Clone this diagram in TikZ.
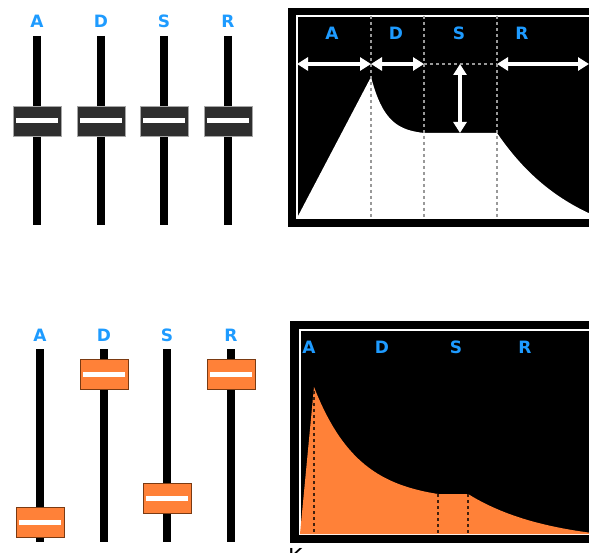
\documentclass[tikz,border=0pt]{standalone}
\usepackage{fontspec}
\setsansfont{DejaVu Sans}
\usetikzlibrary{arrows.meta}
\definecolor{adsrBlue}{HTML}{1E9BFF}
\definecolor{knobGray}{HTML}{2E2E2E}
\definecolor{knobOrange}{HTML}{FF8138}
\definecolor{knobEdge}{HTML}{7A3A12}

\begin{document}
\begin{tikzpicture}
[x=1pt,y=-1pt,
  trackDecorate/.style={black,line width=8pt},
  knobDecorate/.style={shape=rectangle,minimum width=48pt,minimum height=30pt,inner sep=0pt,line width=0.7pt},
  barDecorate/.style={shape=rectangle,fill=white,minimum width=42pt,minimum height=5pt,inner sep=0pt},
  labelDecorate/.style={text=adsrBlue,font=\sffamily\bfseries\fontsize{17}{17}\selectfont},
  arrowDecorate/.style={{Triangle[length=11pt,width=13pt]}-{Triangle[length=11pt,width=13pt]},white,line width=3.5pt},
  dashDecorate/.style={gray!80,line width=1.3pt,dash pattern=on 3pt off 3pt},
  darkDashDecorate/.style={black!75!knobOrange,line width=1.3pt,dash pattern=on 3pt off 3pt}]
\path[use as bounding box,clip] (0,0) rectangle (589,553);

%% sliders, upper row
\foreach \name/\x in {A/37, D/101, S/164, R/228}
{
  \node (labUp\name) at (\x,21) [labelDecorate] {\name};
  \coordinate (trackUpTop\name) at (\x,36);
  \coordinate (trackUpBot\name) at (\x,225);
  \draw[trackDecorate] (trackUpTop\name) -- (trackUpBot\name);
  \node (knobUp\name) at (\x,121) [knobDecorate,fill=knobGray,draw=gray!70] {};
  \node (barUp\name) at (knobUp\name) [barDecorate] {};
}

%% sliders, lower row
\foreach \name/\x/\y in {A/40/522, D/104/374, S/167/498, R/231/374}
{
  \node (labLow\name) at (\x,335) [labelDecorate] {\name};
  \coordinate (trackLowTop\name) at (\x,349);
  \coordinate (trackLowBot\name) at (\x,542);
  \draw[trackDecorate] (trackLowTop\name) -- (trackLowBot\name);
  \node (knobLow\name) at (\x,\y) [knobDecorate,fill=knobOrange,draw=knobEdge] {};
  \node (barLow\name) at (knobLow\name) [barDecorate] {};
}

%% upper envelope screen
\fill[black] (288,8) rectangle (600,227);
\draw[white,line width=1.5pt] (297,16) rectangle (600,218);
\fill[white] (297,218) -- (371,77)
  -- plot[domain=371:424,samples=30] (\x,{133-56*(exp(-(\x-371)/15)-0.029)/0.971})
  -- (497,133)
  -- plot[domain=497:600,samples=30] (\x,{133+85*(1-exp(-(\x-497)/80))/0.724})
  -- (600,218) -- cycle;
\foreach \name/\x in {A/332, D/396, S/459, R/522}
{
  \node (labScrUp\name) at (\x,33) [labelDecorate] {\name};
}
\foreach \name/\x in {A/371, D/424, S/497}
{
  \coordinate (markTop\name) at (\x,16);
  \coordinate (markBot\name) at (\x,218);
  \draw[dashDecorate] (markTop\name) -- (markBot\name);
}
%% time and level arrows
\coordinate (arrStart) at (297,64);
\coordinate (arrA) at (371,64);
\coordinate (arrD) at (424,64);
\coordinate (arrS) at (497,64);
\coordinate (arrR) at (589,64);
\coordinate (levelTop) at (460,64);
\coordinate (levelBot) at (460,133);
\draw[dashDecorate] (arrD) -- (arrS);
\draw[arrowDecorate] (arrStart) -- (arrA);
\draw[arrowDecorate] (arrA) -- (arrD);
\draw[arrowDecorate] (arrS) -- (arrR);
\draw[arrowDecorate] (levelTop) -- (levelBot);

%% lower envelope screen
\fill[black] (290,321) rectangle (600,543);
\draw[white,line width=1.5pt] (300,330) rectangle (600,534);
\fill[knobOrange] (300,534) -- (314,387)
  -- plot[domain=314:438,samples=40] (\x,{494-107*(exp(-(\x-314)/44.6)-0.062)/0.938})
  -- (468,494)
  -- plot[domain=468:600,samples=30] (\x,{494+40*(1-exp(-(\x-468)/80))/0.808})
  -- (600,534) -- cycle;
\foreach \name/\x in {A/309, D/382, S/456, R/525}
{
  \node (labScrLow\name) at (\x,347) [labelDecorate] {\name};
}
\foreach \name/\x/\y in {A/314/391, D/438/494, S/468/494}
{
  \coordinate (lowMarkTop\name) at (\x,\y);
  \coordinate (lowMarkBot\name) at (\x,533);
  \draw[darkDashDecorate] (lowMarkTop\name) -- (lowMarkBot\name);
}

%% caption, cut off at the lower edge
\node (caption) at (288,548) [anchor=north west,inner sep=0pt,font=\sffamily\fontsize{22}{22}\selectfont] {K};
\end{tikzpicture}
\end{document}
